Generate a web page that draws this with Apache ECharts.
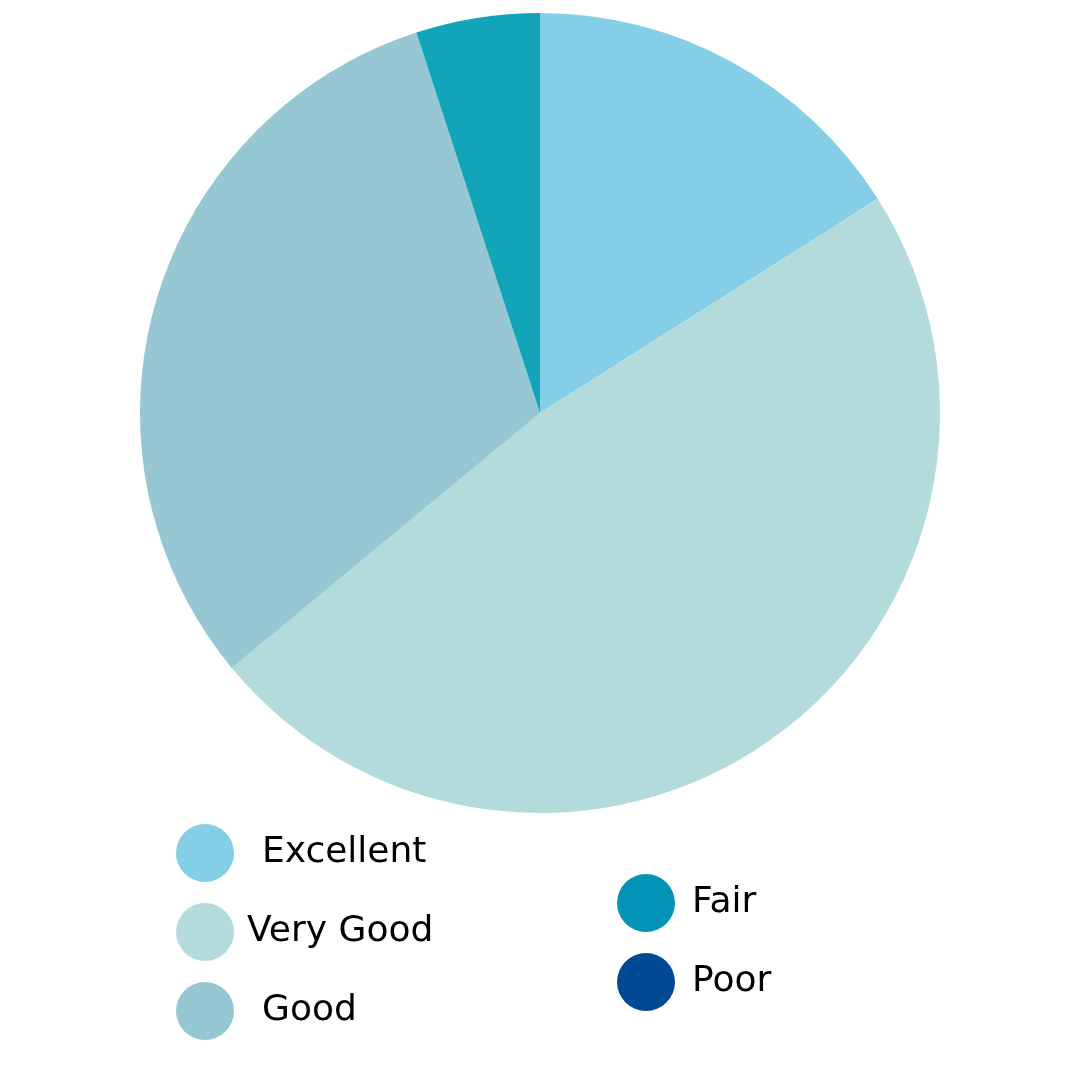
<!DOCTYPE html>
<html>
<head>
<meta charset="utf-8">
<script src="https://cdn.jsdelivr.net/npm/echarts@6/dist/echarts.min.js"></script>
<style>html,body{margin:0;padding:0;background:#fff}#c{width:1080px;height:1080px}</style>
</head>
<body>
<div id="c"></div>
<script>
const categories = ["Excellent", "Very Good", "Good", "Fair", "Poor"];
const values = [16, 48, 31, 5, 0];
const sliceColors = ["#84CFE7", "#B4DBDC", "#96C7D2", "#12A5BA", "#004A93"];
const legendColors = ["#84CFE7", "#B4DBDC", "#96C7D2", "#0393B7", "#004A93"];
const leftLegend = ["Excellent", "Very Good", "Good"];
const rightLegend = ["Fair", "Poor"];

const chart = echarts.init(document.getElementById('c'));
const textPad = {"Excellent": 23, "Very Good": 8, "Good": 23, "Fair": 12, "Poor": 12};
function legendData(names) {
  return names.map(n => {
    const i = categories.indexOf(n);
    return {
      name: n,
      icon: 'circle',
      itemStyle: { color: legendColors[i] },
      textStyle: { padding: [10, 0, 0, textPad[n]] }
    };
  });
}
const legendBase = {
  orient: 'vertical',
  padding: 0,
  itemWidth: 58,
  itemHeight: 58,
  itemGap: 21,
  selectedMode: false,
  textStyle: { fontFamily: 'DejaVu Sans', fontSize: 36, color: '#000' }
};
chart.setOption({
  animation: false,
  backgroundColor: '#fff',
  legend: [
    Object.assign({}, legendBase, { left: 176, top: 824, data: legendData(leftLegend) }),
    Object.assign({}, legendBase, { left: 617, top: 874, data: legendData(rightLegend) })
  ],
  series: [{
    type: 'pie',
    center: [540, 413],
    radius: [0, 400],
    startAngle: 90,
    clockwise: true,
    label: { show: false },
    labelLine: { show: false },
    itemStyle: { borderWidth: 0 },
    emphasis: { disabled: true },
    data: categories.map((c, i) => ({ name: c, value: values[i], itemStyle: { color: sliceColors[i] } }))
  }]
});
</script>
</body>
</html>
